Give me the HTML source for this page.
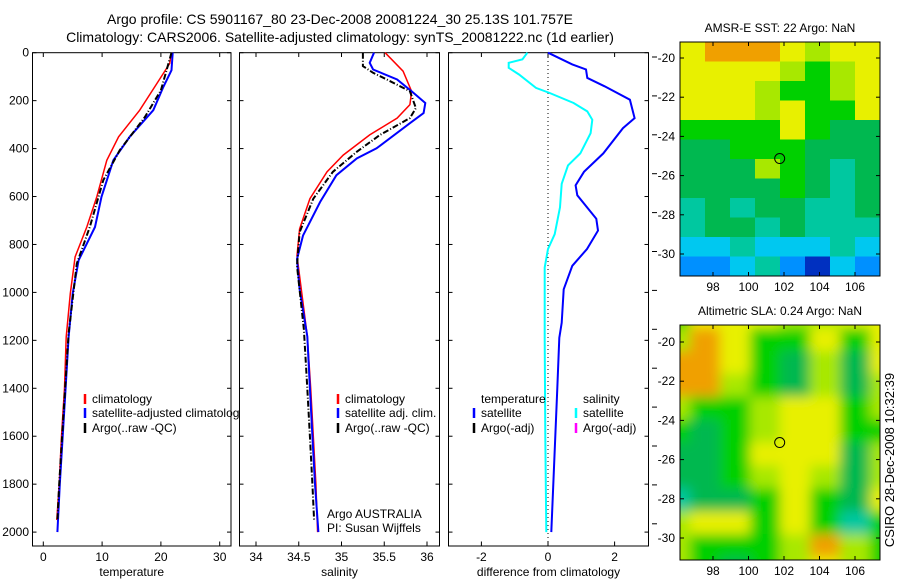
<!DOCTYPE html>
<html><head><meta charset="utf-8"><style>
html,body{margin:0;padding:0;background:#fff}
svg{display:block;font-family:"Liberation Sans",sans-serif}
</style></head><body>
<svg id="fig" width="900" height="580" viewBox="0 0 900 580">
<defs>
<clipPath id="c1"><rect x="32" y="52" width="208" height="495"/></clipPath>
<clipPath id="m1"><rect x="680" y="42" width="200" height="234"/></clipPath>
<clipPath id="m2"><rect x="680" y="325" width="200" height="235"/></clipPath>
<filter id="bl" x="-10%" y="-10%" width="120%" height="120%"><feGaussianBlur stdDeviation="6"/></filter>
</defs>
<rect width="900" height="580" fill="#fff"/>
<text x="340" y="24" font-size="14" text-anchor="middle">Argo profile: CS 5901167_80 23-Dec-2008 20081224_30 25.13S 101.757E</text>
<text x="340" y="42" font-size="14" text-anchor="middle">Climatology: CARS2006. Satellite-adjusted climatology: synTS_20081222.nc (1d earlier)</text>
<g id="g1"></g>
<g id="g2"></g>
<g id="g3"></g>
<g id="g4"></g>
<g id="g5"></g>
<text transform="translate(894,460) rotate(-90)" font-size="13" text-anchor="middle">CSIRO 28-Dec-2008 10:32:39</text>
</svg>
<script>
// ---- data ----
const tempDepth = [0,45,129,240,351,449,601,727,852,1005,1186,1400,1600,1800,1950];
const tempClim  = [21.8,21.5,19.3,16.4,12.8,10.8,9.1,7.4,5.4,4.6,3.9,3.6,3.1,2.7,2.3];
const tempSatDepth = [0,73,143,240,351,449,601,727,866,1005,1186,1400,1600,1800,2000];
const tempSat   = [22,21.8,20.4,18.7,14.7,11.9,9.9,8.8,6.0,5.0,4.3,3.8,3.3,2.8,2.4];
const tempArgoDepth = [0,157,268,407,532,727,880,1172,1400,1600,1800,1950];
const tempArgo  = [21.8,20,17.3,13,10.2,7.9,5.7,4.3,3.7,3.2,2.7,2.4];
const tempTicks = [0,10,20,30];

const salClimDepth = [0,77,161,217,273,343,427,497,609,735,847,987,1183,1400,1600,1800,2000];
const salClim = [35.51,35.72,35.82,35.80,35.65,35.33,35.02,34.83,34.63,34.51,34.48,34.53,34.60,34.64,34.67,34.70,34.72];
const salSatDepth = [0,42,70,112,161,210,252,294,399,441,511,623,763,861,987,1183,1400,1600,1800,2000];
const salSat = [35.38,35.33,35.37,35.65,35.82,35.98,35.96,35.80,35.41,35.18,34.94,34.75,34.55,34.48,34.51,34.60,34.63,34.66,34.69,34.73];
const salArgoDepth = [0,56,84,112,161,231,273,343,413,497,609,749,889,1155,1400,1600,1800,1950];
const salArgo = [35.25,35.25,35.37,35.53,35.80,35.87,35.80,35.45,35.18,34.90,34.67,34.51,34.48,34.56,34.60,34.63,34.66,34.68];
const salTicks = [34,34.5,35,35.5,36];

const dTempDepth = [0,49,70,105,140,196,273,315,420,497,553,595,693,742,819,889,987,1127,1190,1400,1600,1800,2000];
const dTemp = [0,0.73,1.14,1.18,1.7,2.46,2.6,2.25,1.66,1.08,0.83,0.88,1.45,1.5,1.17,0.73,0.47,0.41,0.34,0.28,0.22,0.16,0.1];
const dSalDepth = [0,28,42,63,91,147,168,210,245,280,336,420,470,547,645,757,819,896,1190,1600,2000];
const dSal = [-0.62,-0.77,-1.18,-1.18,-0.87,-0.36,0.05,0.77,1.18,1.33,1.28,0.97,0.6,0.41,0.36,0.2,0,-0.1,-0.1,-0.08,-0.05];
const diffTicks = [-2,0,2];
const depthTicks = [0,200,400,600,800,1000,1200,1400,1600,1800,2000];

const sstGrid = ["YOOOYLYY","YYYYLGLY","YYYLGGLY","YYYLYGGY","GGGGYGDD","DDGGGDDD","DDDLGDTD","DDDDGDTD","TDTDDTTD","TDDTDTTT","CCTCCCTC","BBCTBNCB"];
const slaGrid = ["GYYYLLYY","LOYGGYGY","OOYGDLDY","OOLGDLDL","LGGLYYGL","GDGLYYGG","DDGYYYDL","DDGLYLDL","TDDGYGDY","LYYGYGTG","LGGGLOLG","LGDGLYLG"];
const lonTicks = [98,100,102,104,106];
const latTicks = [-20,-22,-24,-26,-28,-30];
const argoLon = 101.757, argoLat = -25.13;

// ---- helpers ----
const NS="http://www.w3.org/2000/svg";
function mk(parent,tag,attrs,txt){const e=document.createElementNS(NS,tag);for(const k in attrs)e.setAttribute(k,attrs[k]);if(txt!==undefined)e.textContent=txt;parent.appendChild(e);return e;}
const yD = d => 52.7 + d*0.2397;
function line(g,xs,ds,sx,color,w,dash,name){
  const pts = xs.map((v,i)=>sx(v).toFixed(1)+","+yD(ds[i]).toFixed(1)).join(" ");
  const p = mk(g,"polyline",{points:pts,fill:"none",stroke:color,"stroke-width":w});
  if(dash)p.setAttribute("stroke-dasharray",dash);
  
  
}
function panel(g,x0,x1,ticks,sx,xlabel,leftLabels){
  const b = mk(g,"rect",{x:x0,y:52.7,width:x1-x0,height:493.3,fill:"#fff",stroke:"#000","stroke-width":1});
  
  
  ticks.forEach(t=>{const x=sx(t);
    mk(g,"line",{x1:x,x2:x,y1:52.7,y2:57,stroke:"#000"});
    mk(g,"line",{x1:x,x2:x,y1:546,y2:541.5,stroke:"#000"});
    const tl = mk(g,"text",{x:x,y:561,"font-size":12,"text-anchor":"middle"},String(t));
    
    
  });
  depthTicks.forEach(d=>{const y=yD(d);
    mk(g,"line",{x1:x0,x2:x0+4,y1:y,y2:y,stroke:"#000"});
    mk(g,"line",{x1:x1,x2:x1-4,y1:y,y2:y,stroke:"#000"});
    if(leftLabels){const tl=mk(g,"text",{x:29,y:y+4,"font-size":12,"text-anchor":"end"},String(d));
      
      }
  });
  const xl = mk(g,"text",{x:(x0+x1)/2,y:576,"font-size":12,"text-anchor":"middle"},xlabel);
  
  
}
function leg(g,x,y,color,label){
  if(color){mk(g,"line",{x1:x,x2:x,y1:y-9,y2:y+1,stroke:color,"stroke-width":2.5});}
  const t=mk(g,"text",{x:x+7,y:y,"font-size":12},label);
  
  
}

// ---- temperature ----
const g1=document.getElementById("g1");
const sT = v => 43.3 + v*5.88;
panel(g1,32.5,231,tempTicks,sT,"temperature",true);
line(g1,tempClim,tempDepth,sT,"#ff0000",1.5,null,"temperature-climatology-line");
line(g1,tempSat,tempSatDepth,sT,"#0000ff",2,null,"temperature-satellite-line");
line(g1,tempArgo,tempArgoDepth,sT,"#000",2,"6,2,1,2","temperature-argo-line");
const lg1=mk(g1,"g",{"clip-path":"url(#c1)"});


leg(lg1,85,403,"#ff0000","climatology");
leg(lg1,85,417,"#0000ff","satellite-adjusted climatology");
leg(lg1,85,432,"#000","Argo(..raw -QC)");

// ---- salinity ----
const g2=document.getElementById("g2");
const sS = v => 256 + (v-34)*85.5;
panel(g2,239.5,439.5,salTicks,sS,"salinity",false);
line(g2,salClim,salClimDepth,sS,"#ff0000",1.5,null,"salinity-climatology-line");
line(g2,salSat,salSatDepth,sS,"#0000ff",2,null,"salinity-satellite-line");
line(g2,salArgo,salArgoDepth,sS,"#000",2,"6,2,1,2","salinity-argo-line");
leg(g2,338,403,"#ff0000","climatology");
leg(g2,338,417,"#0000ff","satellite adj. clim.");
leg(g2,338,432,"#000","Argo(..raw -QC)");
const a1=mk(g2,"text",{x:327,y:518,"font-size":12},"Argo AUSTRALIA");


const a2=mk(g2,"text",{x:327,y:532,"font-size":12},"PI: Susan Wijffels");



// ---- differences ----
const g3=document.getElementById("g3");
const sD = v => 548 + v*33.3;
panel(g3,448.5,648.5,diffTicks,sD,"difference from climatology",false);
for(let y=57;y<540;y+=38.9){mk(g3,"line",{x1:652,x2:657,y1:y,y2:y,stroke:"#000"});}
mk(g3,"line",{x1:548,x2:548,y1:53,y2:546,stroke:"#000","stroke-dasharray":"1,3"});
line(g3,dSal,dSalDepth,sD,"#00ffff",2,null,"salinity-difference-line");
line(g3,dTemp,dTempDepth,sD,"#0000ff",2,null,"temperature-difference-line");
leg(g3,474,403,null,"temperature");
leg(g3,474,417,"#0000ff","satellite");
leg(g3,474,432,"#000","Argo(-adj)");
leg(g3,576,403,null,"salinity");
leg(g3,576,417,"#00ffff","satellite");
leg(g3,576,432,"#ff00ff","Argo(-adj)");

// ---- maps ----
const col={O:"#f0a000",Y:"#e8f000",L:"#a8e800",G:"#00d000",D:"#00b850",T:"#00c8a0",C:"#00c8f0",B:"#0090ff",N:"#0030c0"};
function map(g,top,bot,grid,title,blur,clip,yN20,yN30,name){
  const L=680,R=880;
  const sx = lon => 713 + (lon-98)*17.75;
  const sy = lat => yN20 + (-20-lat)*(yN30-yN20)/10;
  const tt=mk(g,"text",{x:780,y:top-10,"font-size":12,"text-anchor":"middle"},title);
  
  
  const cg=mk(g,"g",{"clip-path":"url(#"+clip+")"});
  const inner=mk(cg,"g",blur?{filter:"url(#bl)"}:{});
  const rows=grid.length, cols=grid[0].length;
  const pad=blur?20:0;
  const cw=(R-L+2*pad)/cols, ch=(bot-top+2*pad)/rows;
  grid.forEach((r,i)=>{for(let j=0;j<cols;j++){
    const c=mk(inner,"rect",{x:L-pad+j*cw,y:top-pad+i*ch,width:cw+0.6,height:ch+0.6,fill:col[r[j]]});
    
    
  }});
  const fr=mk(g,"rect",{x:L,y:top,width:R-L,height:bot-top,fill:"none",stroke:"#000"});
  
  
  lonTicks.forEach(t=>{const x=sx(t);
    mk(g,"line",{x1:x,x2:x,y1:top,y2:top+4,stroke:"#000"});
    mk(g,"line",{x1:x,x2:x,y1:bot,y2:bot-4,stroke:"#000"});
    const tl=mk(g,"text",{x:x,y:bot+15,"font-size":12,"text-anchor":"middle"},String(t));
    
    
  });
  latTicks.forEach(t=>{const y=sy(t);
    mk(g,"line",{x1:L,x2:L+4,y1:y,y2:y,stroke:"#000"});
    mk(g,"line",{x1:R,x2:R-4,y1:y,y2:y,stroke:"#000"});
    const tl=mk(g,"text",{x:675,y:y+4,"font-size":12,"text-anchor":"end"},String(t));
    
    
  });
  const m=mk(g,"circle",{cx:sx(argoLon),cy:sy(argoLat),r:5,fill:"none",stroke:"#000"});
  
  
}
map(document.getElementById("g4"),42,276,sstGrid,"AMSR-E SST: 22 Argo: NaN",false,"m1",58,254,"sst-map");
map(document.getElementById("g5"),325,560,slaGrid,"Altimetric SLA: 0.24 Argo: NaN",true,"m2",342,538,"sla-map");
</script>
</body></html>
